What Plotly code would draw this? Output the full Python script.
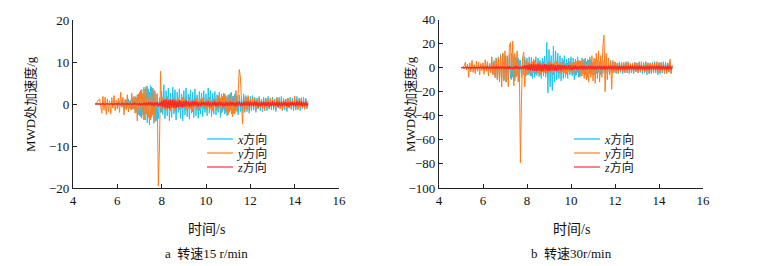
import numpy as np
import plotly.graph_objects as go

# sample times (s), 0.05 s spacing from 5.0 to 14.6
t = np.round(np.arange(5.0, 14.6001, 0.05), 2)

# ---------- panel a: 15 r/min ----------
a_x = [
    0, 0, 0.1, -0.1, 0.2, -0.2, 0.1, -0.3, 0.2, -0.1, 0.3, -0.2, 0.1, -0.3, 0.2, -0.2, 0.3, -0.1, 0.2, -0.3,
    0.4, -0.5, 0.6, -0.4, 0.8, -0.7, 0.5, -0.9, 1.0, -0.8, 1.2, -1.0, 0.9, -1.4, 1.5, -1.2, 1.8, -2.0, 2.2, -2.5,
    2.8, -3.0, 3.5, -2.6, 4.0, -3.8, 4.2, -4.5, 3.6, -5.0, 4.4, -3.2, 3.8, -4.6, 3.0, -4.0, 2.5, -3.5, 1.5, -2.0,
    3.0, -2.5, 4.6, -3.5, 3.2, -2.8, 3.8, -4.0, 2.6, -3.2, 4.0, -2.4, 3.4, -3.8, 2.8, -2.0, 3.6, -3.4, 2.4, -4.0,
    3.2, -2.6, 3.8, -3.0, 2.4, -3.6, 3.4, -2.2, 2.8, -3.2, 3.6, -2.8, 2.2, -3.4, 3.0, -2.4, 2.6, -3.0, 3.2, -2.0,
    2.4, -2.8, 3.8, -2.2, 3.2, -3.0, 2.6, -2.4, 3.0, -2.6, 2.2, -2.0, 2.8, -3.2, 2.4, -1.8, 2.6, -2.4, 2.0, -2.8,
    2.2, -2.0, 2.6, -2.4, 1.8, -2.2, 2.4, -1.6, 2.0, -2.6, 2.2, -1.8, 1.6, -2.0, 2.4, -1.4, 2.0, -1.8, 1.6, -2.2,
    1.8, -1.6, 2.0, -1.4, 1.6, -2.0, 1.4, -1.2, 1.8, -1.6, 1.2, -1.8, 1.6, -1.0, 1.4, -1.6, 1.8, -1.2, 1.0, -1.4,
    1.6, -1.4, 1.2, -1.8, 1.4, -1.0, 1.6, -1.2, 1.8, -1.6, 1.0, -1.4, 1.2, -1.8, 1.4, -1.0, 1.6, -1.2, 1.4, -1.6,
    1.2, -1.4, 1.8, -1.0, 1.4, -1.6, 1.2, -1.2, 1.6, -1.0, 1.4, -1.2, 0.8,
]
a_y = [
    0, 0.2, 0.5, 1.0, 1.2, -0.5, -2.2, 1.8, -1.5, 1.6, -2.5, 1.2, -1.8, 0.8, -2.4, 1.5, -1.0, 2.0, -1.6, 0.9,
    -1.2, 1.4, -2.0, 2.8, -0.8, 1.6, -2.6, 1.1, -1.4, 2.2, -1.9, 0.7, -1.3, 2.6, -1.2, 1.8, -2.2, 1.5, -4.0, 2.4,
    -2.8, 3.2, -3.4, 2.5, -3.8, 3.6, -2.4, 4.2, -3.2, 2.8, -3.8, 4.0, -2.6, 3.4, -4.2, 2.2, 2.0, -19.5, -10.5, 7.8,
    -2.0, 1.5, -1.2, 0.8, -1.5, 1.8, -0.9, 1.2, -1.6, 0.7, -1.0, 1.4, -1.8, 1.0, -0.6, 1.3, -1.4, 0.9, -1.1, 1.6,
    -0.8, 1.2, -1.5, 0.6, -1.0, 1.7, -1.2, 0.9, -1.9, 1.1, -0.7, 1.5, -1.3, 0.8, -1.6, 1.2, -0.9, 1.4, -1.1, 0.7,
    -1.4, 1.0, -0.8, 1.6, -1.2, 0.9, -1.7, 1.3, -0.6, 1.1, -1.5, 2.0, -1.0, 1.4, -2.2, 1.8, -1.3, 2.4, -2.0, 1.6,
    -2.6, 2.2, -1.5, 2.8, -3.0, 1.9, -2.4, 3.2, -1.8, 2.5, 8.2, 6.5, -2.0, -4.8, 1.8, -2.0, 1.5, -1.2, 2.0, -1.4,
    1.0, -1.3, 1.6, -0.8, 1.2, -1.5, 0.9, -1.0, 1.4, -0.7, 1.1, -1.2, 0.8, -1.6, 1.3, -0.9, 1.0, -1.1, 1.5, -0.6,
    1.2, -1.0, 0.8, -1.4, 1.6, -0.7, 1.0, -1.2, 0.9, -1.5, 1.3, -0.8, 1.1, -1.0, 1.4, -0.9, 0.7, -1.3, 1.0, -0.8,
    1.9, -1.1, 0.9, -1.4, 1.2, -0.8, 1.5, -1.0, 0.8, -1.3, 1.1, -0.9, 0.3,
]
a_z = [
    0, 0, 0, 0.1, 0, -0.1, 0, 0.1, 0, -0.1, 0, 0.1, 0, -0.1, 0, 0.1, -0.1, 0, 0.1, 0,
    -0.1, 0.1, 0, -0.1, 0.1, 0, -0.1, 0.1, -0.1, 0.1, 0, -0.1, 0.1, -0.2, 0.1, -0.1, 0.2, -0.1, 0.1, -0.2,
    0.2, -0.2, 0.1, -0.3, 0.3, -0.2, 0.2, -0.3, 0.4, -0.3, 0.5, -0.4, 0.3, -0.5, 0.4, -0.3, 0.5, -0.6, 0.4, -0.5,
    0.8, -0.7, 1.0, -0.9, 1.2, -1.0, 0.9, -1.2, 1.1, -0.8, 1.0, -0.9, 0.8, -1.0, 0.7, -0.8, 0.9, -0.7, 0.6, -0.8,
    0.7, -0.6, 0.8, -0.5, 0.6, -0.7, 0.5, -0.6, 0.7, -0.5, 0.6, -0.4, 0.5, -0.6, 0.4, -0.5, 0.6, -0.4, 0.5, -0.4,
    0.5, -0.4, 0.6, -0.5, 0.4, -0.6, 0.5, -0.4, 0.6, -0.5, 0.4, -0.5, 0.6, -0.4, 0.5, -0.6, 0.4, -0.5, 0.5, -0.4,
    0.4, -0.5, 0.6, -0.4, 0.5, -0.5, 0.4, -0.6, 0.5, -0.4, 0.6, -0.5, 0.4, -0.5, 0.6, -0.4, 0.5, -0.4, 0.6, -0.5,
    0.5, -0.4, 0.4, -0.5, 0.6, -0.4, 0.5, -0.6, 0.4, -0.5, 0.5, -0.4, 0.6, -0.5, 0.4, -0.4, 0.5, -0.6, 0.4, -0.5,
    0.6, -0.5, 0.4, -0.4, 0.5, -0.6, 0.5, -0.4, 0.4, -0.5, 0.6, -0.4, 0.5, -0.5, 0.4, -0.6, 0.5, -0.4, 0.5, -0.5,
    0.4, -0.5, 0.6, -0.4, 0.5, -0.4, 0.6, -0.5, 0.4, -0.5, 0.5, -0.4, 0.1,
]

# ---------- panel b: 30 r/min ----------
b_x = [
    0, 0, 0.3, -0.5, 0.8, -0.6, 1.0, -0.8, 0.6, -1.0, 1.2, -0.9, 0.7, -1.1, 1.0, -0.8, 1.3, -1.0, 0.9, -1.2,
    1.5, -1.8, 2.0, -2.2, 2.5, -3.0, 3.5, -4.0, 5.0, -5.5, 6.0, -7.0, 8.0, -9.0, 9.0, -10.0, 11.0, -8.0, 12.0, -11.0,
    10.0, -12.0, 9.0, -10.0, 11.0, -9.0, 12.0, -8.0, 10.0, -11.0, 9.0, -7.0, 8.0, -10.0, 6.0, -8.0, 7.0, -6.0, 9.0, -7.0,
    8.0, -6.0, 9.0, -7.0, 8.5, -9.0, 7.0, -8.0, 9.0, -6.5, 8.0, -7.5, 6.0, -9.0, 8.0, -7.0, 9.5, -8.0, 21.0, -21.0,
    15.0, -16.0, 10.0, -19.0, 18.0, -12.0, 14.0, -10.0, 12.0, -9.0, 10.0, -11.0, 8.0, -9.0, 10.0, -8.0, 7.0, -9.0, 8.0, -6.0,
    9.0, -7.0, 8.0, -10.0, 7.0, -6.0, 9.0, -8.0, 6.0, -7.0, 8.0, -5.0, 7.0, -6.0, 5.0, -8.0, 6.0, -5.0, 7.0, -6.0,
    5.0, -6.0, 7.0, -5.0, 6.0, -4.0, 5.0, -6.0, 4.5, -5.0, 6.0, -4.0, 5.0, -5.5, 4.0, -5.0, 6.0, -4.5, 5.0, -4.0,
    4.5, -5.0, 4.0, -4.5, 5.0, -4.0, 3.5, -5.0, 4.5, -3.5, 4.0, -4.5, 5.0, -4.0, 3.5, -4.5, 4.0, -5.0, 4.5, -3.5,
    4.0, -4.5, 5.0, -4.0, 3.5, -5.0, 4.5, -4.0, 5.0, -6.0, 4.0, -4.5, 3.5, -5.0, 4.5, -4.0, 5.0, -4.5, 4.0, -6.0,
    4.5, -5.0, 4.0, -4.5, 5.0, -4.0, 4.5, -5.0, 3.5, -4.0, 5.0, -4.5, 2.0,
]
b_y = [
    0, 0.2, 0.5, 1.5, 4.5, -2.0, 3.0, -8.0, 4.0, -3.5, 6.0, -4.0, 2.5, -5.0, 5.5, -3.0, 4.5, -6.0, 3.5, -2.5,
    4.0, -5.5, 6.5, -3.0, 5.0, -7.0, 3.5, -4.5, 9.0, -6.0, 4.0, -8.5, 7.5, -10.0, 8.0, -12.0, 10.0, -16.0, 12.0, -10.0,
    14.0, -12.0, 10.0, -16.0, 18.0, 21.0, -10.0, 22.0, -15.0, 12.0, -8.0, 14.0, -12.0, 6.0, -79.0, -25.0, 8.0, 13.0, -16.0, 6.0,
    -6.0, 4.5, -5.0, 3.5, -7.0, 5.0, -4.0, 6.0, -5.5, 3.0, -4.5, 5.5, -6.0, 4.0, -3.5, 5.0, -4.0, 3.0, -5.0, 4.5,
    -3.5, 5.0, -4.5, 3.5, -6.0, 4.0, -3.0, 5.5, -4.0, 3.0, -5.0, 4.5, -3.5, 6.0, -4.5, 3.5, -5.5, 4.0, -3.0, 5.0,
    -4.0, 3.5, -5.0, 4.5, -6.5, 5.0, -4.0, 6.0, -8.0, 5.5, -7.0, 6.5, -9.0, 8.0, -10.0, 7.0, -12.0, 9.0, -8.0, 10.0,
    -11.0, 8.0, -13.0, 12.0, -9.0, 14.0, -12.0, 10.0, -8.0, 18.0, 27.0, -20.0, 12.0, -10.0, 8.0, -6.0, 5.0, -18.0, 6.0, -4.0,
    5.0, -4.0, 3.5, -5.0, 4.0, -3.0, 4.5, -3.5, 3.0, -4.5, 5.0, -3.0, 4.0, -5.0, 3.5, -4.0, 3.0, -3.5, 4.5, -3.0,
    3.5, -4.5, 4.0, -3.0, 5.0, -3.5, 3.0, -4.0, 4.5, -3.0, 3.5, -5.0, 4.0, -3.5, 3.0, -4.5, 4.0, -3.0, 5.0, -4.0,
    3.5, -4.0, 4.5, -3.0, 4.0, -5.0, 3.0, -4.5, 4.0, -3.5, 7.0, -5.0, 2.0,
]
b_z = [
    0, 0, 0.2, -0.3, 0.4, -0.3, 0.5, -0.4, 0.3, -0.5, 0.4, -0.3, 0.5, -0.4, 0.3, -0.5, 0.4, -0.3, 0.5, -0.4,
    0.5, -0.6, 0.4, -0.5, 0.7, -0.5, 0.6, -0.7, 0.5, -0.6, 0.8, -0.6, 0.7, -0.8, 0.6, -0.7, 0.9, -0.7, 0.8, -0.9,
    0.8, -1.0, 0.9, -0.8, 1.2, -1.0, 0.8, -1.2, 1.0, -0.9, 1.3, -1.1, 0.9, -1.2, 1.0, -1.3, 1.5, -1.2, 1.8, -1.5,
    2.0, -1.8, 2.4, -2.2, 3.0, -2.6, 3.2, -2.8, 2.6, -3.0, 3.4, -2.5, 2.8, -3.2, 2.5, -2.8, 3.0, -2.4, 2.6, -2.9,
    2.4, -2.6, 2.8, -2.2, 2.5, -2.4, 2.0, -2.6, 2.2, -1.8, 2.0, -2.2, 1.8, -1.6, 2.0, -1.8, 1.6, -1.5, 1.8, -1.6,
    1.5, -1.8, 1.6, -1.4, 1.8, -1.5, 1.4, -1.6, 1.5, -1.3, 1.6, -1.5, 1.4, -1.6, 1.3, -1.5, 1.6, -1.4, 1.5, -1.3,
    1.4, -1.5, 1.3, -1.6, 1.5, -1.4, 1.6, -1.3, 1.5, -1.5, 1.4, -1.6, 1.3, -1.4, 1.5, -1.3, 1.6, -1.5, 1.4, -1.3,
    1.5, -1.4, 1.3, -1.5, 1.6, -1.4, 1.5, -1.3, 1.4, -1.6, 1.5, -1.4, 1.3, -1.5, 1.6, -1.3, 1.4, -1.5, 1.5, -1.4,
    1.3, -1.5, 1.6, -1.4, 1.5, -1.3, 1.4, -1.6, 1.5, -1.4, 1.3, -1.5, 1.6, -1.4, 1.5, -1.3, 1.4, -1.5, 1.6, -1.4,
    1.5, -1.3, 1.4, -1.6, 1.5, -1.4, 1.3, -1.5, 1.6, -1.4, 1.5, -1.3, 0.5,
]

series_names = ["<i>x</i>方向", "<i>y</i>方向", "<i>z</i>方向"]
series_colors = ["#1FC3F2", "#FF7B1C", "#FF2626"]
legend_colors = ["#3CCBF4", "#FF9A55", "#FF5A5A"]
x_ticks = [4, 6, 8, 10, 12, 14, 16]
a_yticks = [-20, -10, 0, 10, 20]
b_yticks = [-100, -80, -60, -40, -20, 0, 20, 40]
captions = ["a  转速15 r/min", "b  转速30r/min"]
y_title = "MWD处加速度/g"
x_title = "时间/s"

W, H = 761, 266
SERIF = "Liberation Serif, Times New Roman, Noto Sans CJK SC, serif"
CJK = "Liberation Serif, Noto Sans CJK SC, serif"

fig = go.Figure()
panels = [
    (a_x, a_y, a_z, "x", "y"),
    (b_x, b_y, b_z, "x2", "y2"),
]
for (sx, sy, sz, xa, ya) in panels:
    for vals, name, col, w in zip([sx, sy, sz], series_names, series_colors, [1.0, 1.0, 1.3]):
        fig.add_trace(go.Scatter(
            x=t, y=vals, mode="lines", name=name, xaxis=xa, yaxis=ya,
            line=dict(color=col, width=w), showlegend=False,
        ))

axis_common = dict(
    showline=True, linecolor="#222", linewidth=1.2, mirror=False,
    ticks="inside", ticklen=4, tickwidth=1, tickcolor="#222",
    showgrid=False, zeroline=False, automargin=False,
    tickfont=dict(family=SERIF, size=13, color="#111"),
)

pxl = lambda v: v / W
pyl = lambda v: 1 - v / H

fig.update_layout(
    width=W, height=H,
    margin=dict(l=0, r=0, t=0, b=0),
    paper_bgcolor="white", plot_bgcolor="white",
    xaxis=dict(domain=[pxl(73), pxl(339)], range=[4, 16], tickvals=x_ticks, anchor="y", **axis_common),
    yaxis=dict(domain=[pyl(188), pyl(20)], range=[-20, 20], tickvals=a_yticks, anchor="x", **axis_common),
    xaxis2=dict(domain=[pxl(439), pxl(703)], range=[4, 16], tickvals=x_ticks, anchor="y2", **axis_common),
    yaxis2=dict(domain=[pyl(188), pyl(19.5)], range=[-100, 40], tickvals=b_yticks, anchor="x2", **axis_common),
    showlegend=False,
)

ann = []
shapes = []
for cx, cap in zip([206, 571], captions):
    ann.append(dict(x=pxl(cx), y=pyl(229), xref="paper", yref="paper", text=x_title, showarrow=False,
                    font=dict(family=CJK, size=14, color="#111"), xanchor="center", yanchor="middle"))
    ann.append(dict(x=pxl(cx), y=pyl(253), xref="paper", yref="paper", text=cap, showarrow=False,
                    font=dict(family=CJK, size=13, color="#111"), xanchor="center", yanchor="middle"))
for cx in [30, 410]:
    ann.append(dict(x=pxl(cx), y=pyl(104), xref="paper", yref="paper", text=y_title, showarrow=False,
                    textangle=-90, font=dict(family=CJK, size=13, color="#111"),
                    xanchor="center", yanchor="middle"))

# legends (one per panel): short line + label
for lx in [207, 574]:
    for i, (name, col) in enumerate(zip(series_names, legend_colors)):
        ly = 139 + 14 * i
        shapes.append(dict(type="line", xref="paper", yref="paper",
                           x0=pxl(lx), x1=pxl(lx + 26), y0=pyl(ly), y1=pyl(ly),
                           line=dict(color=col, width=1.5)))
        ann.append(dict(x=pxl(lx + 28), y=pyl(ly), xref="paper", yref="paper", text=name,
                        showarrow=False, xanchor="left", yanchor="middle",
                        font=dict(family=CJK, size=12, color="#111")))

fig.update_layout(annotations=ann, shapes=shapes)

fig.write_html("out.html", config={"displayModeBar": False},
               post_script="document.body.style.margin='0';document.body.style.overflow='hidden';")
